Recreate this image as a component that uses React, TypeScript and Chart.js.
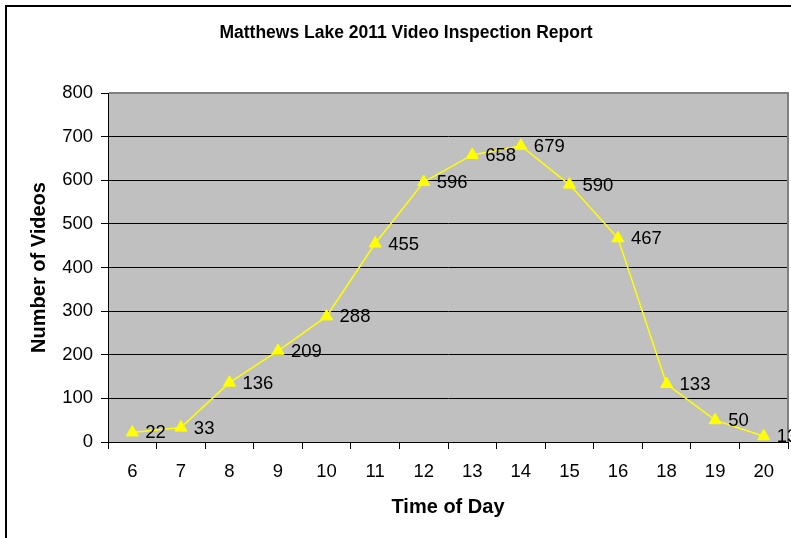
import React, { useEffect, useRef } from "react";
import { Chart, registerables } from "chart.js";

Chart.register(...registerables);

const TITLE = "Matthews Lake 2011 Video Inspection Report";
const X_TITLE = "Time of Day";
const Y_TITLE = "Number of Videos";
const categories = ["6", "7", "8", "9", "10", "11", "12", "13", "14", "15", "16", "18", "19", "20"];
const videos = [22, 33, 136, 209, 288, 455, 596, 658, 679, 590, 467, 133, 50, 13];
const yTicks = [0, 100, 200, 300, 400, 500, 600, 700, 800];

const FONT = "'Liberation Sans', Arial, sans-serif";

const framePlugin = {
  id: "frame",
  beforeDraw(chart: any) {
    const { ctx, chartArea, width, height } = chart;
    ctx.save();
    ctx.fillStyle = "#ffffff";
    ctx.fillRect(0, 0, width, height);
    ctx.strokeStyle = "#000000";
    ctx.lineWidth = 2;
    ctx.beginPath();
    ctx.moveTo(6, height + 10);
    ctx.lineTo(6, 6);
    ctx.lineTo(width + 10, 6);
    ctx.stroke();
    ctx.fillStyle = "#C0C0C0";
    ctx.fillRect(chartArea.left, chartArea.top, chartArea.right - chartArea.left, chartArea.bottom - chartArea.top);
    ctx.restore();
  },
  beforeDatasetsDraw(chart: any) {
    const { ctx, chartArea } = chart;
    ctx.save();
    ctx.strokeStyle = "#808080";
    ctx.lineWidth = 2;
    ctx.beginPath();
    ctx.moveTo(chartArea.left + 1, chartArea.top);
    ctx.lineTo(chartArea.right, chartArea.top);
    ctx.lineTo(chartArea.right, chartArea.bottom);
    ctx.stroke();
    ctx.restore();
  },
};

const labelPlugin = {
  id: "pointLabels",
  afterDatasetsDraw(chart: any) {
    const { ctx } = chart;
    const meta = chart.getDatasetMeta(0);
    const data = chart.data.datasets[0].data as number[];
    ctx.save();
    ctx.font = `18.5px ${FONT}`;
    ctx.fillStyle = "#000000";
    ctx.textAlign = "left";
    ctx.textBaseline = "middle";
    meta.data.forEach((pt: any, i: number) => {
      ctx.fillText(String(data[i]), pt.x + 13, pt.y + 1);
    });
    ctx.restore();
  },
};

export default function App() {
  const ref = useRef<HTMLCanvasElement | null>(null);
  useEffect(() => {
    if (!ref.current) return;
    const chart = new Chart(ref.current, {
      type: "line",
      data: {
        labels: categories,
        datasets: [
          {
            data: videos,
            borderColor: "#FFFF00",
            backgroundColor: "#FFFF00",
            borderWidth: 1.5,
            pointStyle: "triangle",
            pointRadius: 7,
            pointBorderWidth: 1,
            tension: 0,
          },
        ],
      },
      options: {
        animation: false,
        responsive: false,
        maintainAspectRatio: false,
        layout: { padding: { left: 24, right: 24, top: 0, bottom: 0 } },
        plugins: {
          legend: { display: false },
          tooltip: { enabled: false },
          title: {
            display: true,
            text: TITLE,
            color: "#000000",
            font: { family: FONT, size: 17.5, weight: "bold" },
            padding: { top: 22.5, bottom: 49.5 },
          },
        },
        scales: {
          x: {
            type: "category",
            offset: true,
            grid: {
              offset: true,
              drawOnChartArea: false,
              drawTicks: true,
              tickLength: 7,
              color: "#000000",
            },
            border: { color: "#000000", width: 1 },
            ticks: {
              color: "#000000",
              font: { family: FONT, size: 18.5 },
              padding: 12,
              maxRotation: 0,
              autoSkip: false,
            },
            title: {
              display: true,
              text: X_TITLE,
              color: "#000000",
              font: { family: FONT, size: 20, weight: "bold" },
              padding: { top: 0, bottom: 19 },
            },
            afterFit(scale: any) {
              scale.height = 96;
            },
          },
          y: {
            min: 0,
            max: 800,
            afterBuildTicks(scale: any) {
              scale.ticks = yTicks.map((v) => ({ value: v }));
            },
            grid: {
              color: "#000000",
              drawTicks: true,
              tickLength: 7,
            },
            border: { color: "#000000", width: 1 },
            ticks: {
              color: "#000000",
              font: { family: FONT, size: 18.5 },
              padding: 8,
            },
            title: {
              display: true,
              text: Y_TITLE,
              color: "#000000",
              font: { family: FONT, size: 20, weight: "bold" },
              padding: { top: 3, bottom: 0 },
            },
            afterFit(scale: any) {
              scale.width = 84;
            },
          },
        },
      },
      plugins: [framePlugin, labelPlugin],
    });
    return () => chart.destroy();
  }, []);

  return (
    <div style={{ position: "fixed", left: 0, top: 0, width: 791, height: 538, overflow: "hidden", background: "#fff" }}>
      <canvas ref={ref} width={812} height={538} style={{ width: 812, height: 538, display: "block" }} />
    </div>
  );
}
